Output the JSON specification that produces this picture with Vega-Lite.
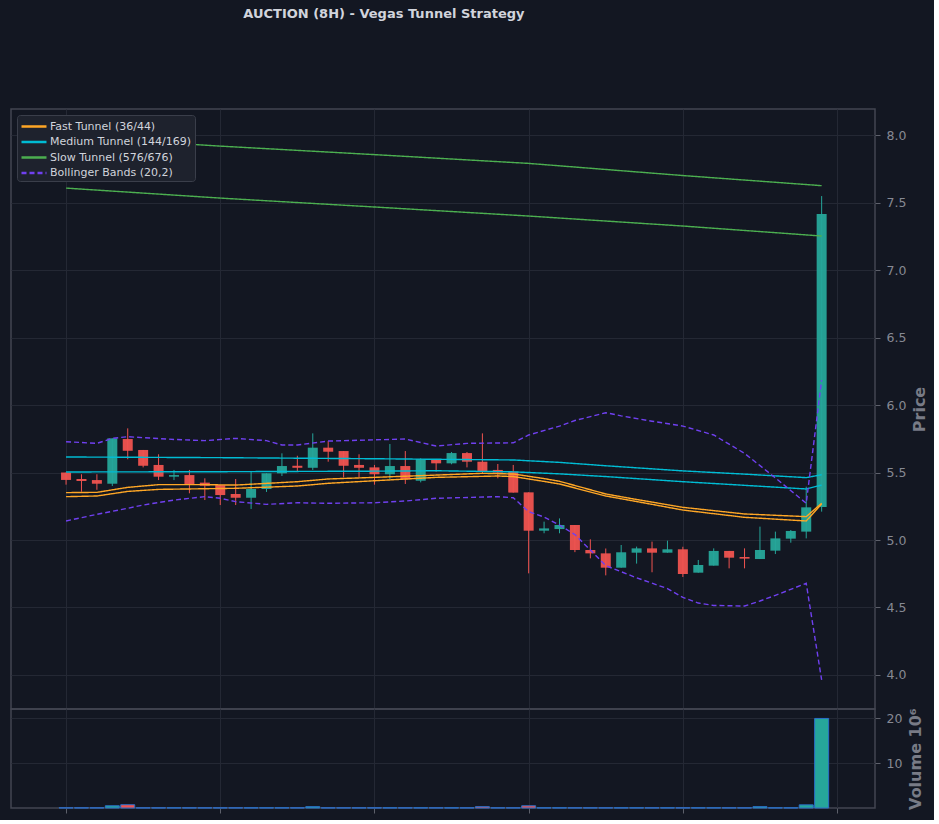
{
  "$schema": "https://vega.github.io/schema/vega-lite/v6.json",
  "background": "#131722",
  "padding": {"left": 10, "top": 8, "right": 5, "bottom": 5},
  "title": {"text": "AUCTION (8H) - Vegas Tunnel Strategy", "anchor": "start", "dx": 233, "offset": 87, "color": "#d1d4dc", "fontSize": 13, "fontWeight": "bold", "font": "DejaVu Sans"},
  "datasets": {
    "candles": [
      {"i": 0, "o": 5.50, "h": 5.50, "l": 5.41, "c": 5.445, "v": 0.05},
      {"i": 1, "o": 5.452, "h": 5.487, "l": 5.358, "c": 5.437, "v": 0.05},
      {"i": 2, "o": 5.444, "h": 5.487, "l": 5.372, "c": 5.417, "v": 0.05},
      {"i": 3, "o": 5.417, "h": 5.753, "l": 5.40, "c": 5.753, "v": 0.5},
      {"i": 4, "o": 5.748, "h": 5.827, "l": 5.598, "c": 5.661, "v": 0.73},
      {"i": 5, "o": 5.667, "h": 5.667, "l": 5.538, "c": 5.550, "v": 0.05},
      {"i": 6, "o": 5.556, "h": 5.635, "l": 5.444, "c": 5.469, "v": 0.05},
      {"i": 7, "o": 5.469, "h": 5.519, "l": 5.444, "c": 5.481, "v": 0.05},
      {"i": 8, "o": 5.481, "h": 5.519, "l": 5.346, "c": 5.415, "v": 0.05},
      {"i": 9, "o": 5.425, "h": 5.457, "l": 5.296, "c": 5.402, "v": 0.05},
      {"i": 10, "o": 5.407, "h": 5.407, "l": 5.259, "c": 5.333, "v": 0.05},
      {"i": 11, "o": 5.341, "h": 5.452, "l": 5.259, "c": 5.313, "v": 0.05},
      {"i": 12, "o": 5.313, "h": 5.504, "l": 5.230, "c": 5.378, "v": 0.05},
      {"i": 13, "o": 5.378, "h": 5.494, "l": 5.356, "c": 5.494, "v": 0.05},
      {"i": 14, "o": 5.494, "h": 5.642, "l": 5.474, "c": 5.548, "v": 0.05},
      {"i": 15, "o": 5.550, "h": 5.624, "l": 5.504, "c": 5.535, "v": 0.05},
      {"i": 16, "o": 5.535, "h": 5.790, "l": 5.519, "c": 5.684, "v": 0.3},
      {"i": 17, "o": 5.684, "h": 5.733, "l": 5.580, "c": 5.654, "v": 0.05},
      {"i": 18, "o": 5.659, "h": 5.659, "l": 5.464, "c": 5.550, "v": 0.05},
      {"i": 19, "o": 5.556, "h": 5.635, "l": 5.464, "c": 5.535, "v": 0.05},
      {"i": 20, "o": 5.538, "h": 5.556, "l": 5.410, "c": 5.487, "v": 0.05},
      {"i": 21, "o": 5.487, "h": 5.711, "l": 5.449, "c": 5.548, "v": 0.05},
      {"i": 22, "o": 5.548, "h": 5.659, "l": 5.415, "c": 5.449, "v": 0.05},
      {"i": 23, "o": 5.439, "h": 5.605, "l": 5.427, "c": 5.600, "v": 0.05},
      {"i": 24, "o": 5.600, "h": 5.600, "l": 5.506, "c": 5.568, "v": 0.05},
      {"i": 25, "o": 5.568, "h": 5.652, "l": 5.561, "c": 5.644, "v": 0.05},
      {"i": 26, "o": 5.644, "h": 5.652, "l": 5.538, "c": 5.580, "v": 0.05},
      {"i": 27, "o": 5.580, "h": 5.790, "l": 5.490, "c": 5.506, "v": 0.3},
      {"i": 28, "o": 5.519, "h": 5.563, "l": 5.457, "c": 5.499, "v": 0.05},
      {"i": 29, "o": 5.506, "h": 5.556, "l": 5.351, "c": 5.351, "v": 0.05},
      {"i": 30, "o": 5.353, "h": 5.353, "l": 4.753, "c": 5.069, "v": 0.5},
      {"i": 31, "o": 5.069, "h": 5.136, "l": 5.050, "c": 5.086, "v": 0.05},
      {"i": 32, "o": 5.081, "h": 5.160, "l": 5.050, "c": 5.111, "v": 0.05},
      {"i": 33, "o": 5.111, "h": 5.111, "l": 4.910, "c": 4.926, "v": 0.05},
      {"i": 34, "o": 4.926, "h": 5.005, "l": 4.864, "c": 4.901, "v": 0.05},
      {"i": 35, "o": 4.901, "h": 4.937, "l": 4.738, "c": 4.795, "v": 0.05},
      {"i": 36, "o": 4.795, "h": 4.963, "l": 4.795, "c": 4.909, "v": 0.05},
      {"i": 37, "o": 4.906, "h": 4.951, "l": 4.825, "c": 4.938, "v": 0.05},
      {"i": 38, "o": 4.938, "h": 4.988, "l": 4.761, "c": 4.906, "v": 0.05},
      {"i": 39, "o": 4.906, "h": 4.995, "l": 4.906, "c": 4.931, "v": 0.05},
      {"i": 40, "o": 4.931, "h": 4.950, "l": 4.726, "c": 4.748, "v": 0.05},
      {"i": 41, "o": 4.758, "h": 4.852, "l": 4.758, "c": 4.815, "v": 0.05},
      {"i": 42, "o": 4.810, "h": 4.938, "l": 4.810, "c": 4.919, "v": 0.05},
      {"i": 43, "o": 4.919, "h": 4.919, "l": 4.790, "c": 4.869, "v": 0.05},
      {"i": 44, "o": 4.874, "h": 4.938, "l": 4.790, "c": 4.862, "v": 0.05},
      {"i": 45, "o": 4.859, "h": 5.099, "l": 4.859, "c": 4.926, "v": 0.3},
      {"i": 46, "o": 4.921, "h": 5.062, "l": 4.896, "c": 5.012, "v": 0.05},
      {"i": 47, "o": 5.010, "h": 5.074, "l": 4.980, "c": 5.067, "v": 0.05},
      {"i": 48, "o": 5.062, "h": 5.395, "l": 5.012, "c": 5.242, "v": 0.7},
      {"i": 49, "o": 5.244, "h": 7.548, "l": 5.210, "c": 7.415, "v": 19.9}
    ],
    "lines": [
      {"s": "Fast Tunnel (36/44)", "b": "u", "i": 0, "v": 5.351},
      {"s": "Fast Tunnel (36/44)", "b": "u", "i": 2, "v": 5.353},
      {"s": "Fast Tunnel (36/44)", "b": "u", "i": 4, "v": 5.39},
      {"s": "Fast Tunnel (36/44)", "b": "u", "i": 6, "v": 5.41},
      {"s": "Fast Tunnel (36/44)", "b": "u", "i": 9, "v": 5.41},
      {"s": "Fast Tunnel (36/44)", "b": "u", "i": 11, "v": 5.407},
      {"s": "Fast Tunnel (36/44)", "b": "u", "i": 15, "v": 5.432},
      {"s": "Fast Tunnel (36/44)", "b": "u", "i": 17, "v": 5.452},
      {"s": "Fast Tunnel (36/44)", "b": "u", "i": 20, "v": 5.464},
      {"s": "Fast Tunnel (36/44)", "b": "u", "i": 24, "v": 5.481},
      {"s": "Fast Tunnel (36/44)", "b": "u", "i": 27, "v": 5.494},
      {"s": "Fast Tunnel (36/44)", "b": "u", "i": 29, "v": 5.489},
      {"s": "Fast Tunnel (36/44)", "b": "u", "i": 31, "v": 5.455},
      {"s": "Fast Tunnel (36/44)", "b": "u", "i": 32, "v": 5.435},
      {"s": "Fast Tunnel (36/44)", "b": "u", "i": 35, "v": 5.341},
      {"s": "Fast Tunnel (36/44)", "b": "u", "i": 37, "v": 5.30},
      {"s": "Fast Tunnel (36/44)", "b": "u", "i": 40, "v": 5.242},
      {"s": "Fast Tunnel (36/44)", "b": "u", "i": 44, "v": 5.193},
      {"s": "Fast Tunnel (36/44)", "b": "u", "i": 48, "v": 5.173},
      {"s": "Fast Tunnel (36/44)", "b": "u", "i": 49, "v": 5.272},
      {"s": "Fast Tunnel (36/44)", "b": "l", "i": 0, "v": 5.321},
      {"s": "Fast Tunnel (36/44)", "b": "l", "i": 2, "v": 5.326},
      {"s": "Fast Tunnel (36/44)", "b": "l", "i": 4, "v": 5.36},
      {"s": "Fast Tunnel (36/44)", "b": "l", "i": 6, "v": 5.375},
      {"s": "Fast Tunnel (36/44)", "b": "l", "i": 11, "v": 5.383},
      {"s": "Fast Tunnel (36/44)", "b": "l", "i": 15, "v": 5.40},
      {"s": "Fast Tunnel (36/44)", "b": "l", "i": 17, "v": 5.42},
      {"s": "Fast Tunnel (36/44)", "b": "l", "i": 20, "v": 5.439},
      {"s": "Fast Tunnel (36/44)", "b": "l", "i": 24, "v": 5.464},
      {"s": "Fast Tunnel (36/44)", "b": "l", "i": 28, "v": 5.474},
      {"s": "Fast Tunnel (36/44)", "b": "l", "i": 29, "v": 5.47},
      {"s": "Fast Tunnel (36/44)", "b": "l", "i": 31, "v": 5.434},
      {"s": "Fast Tunnel (36/44)", "b": "l", "i": 32, "v": 5.415},
      {"s": "Fast Tunnel (36/44)", "b": "l", "i": 35, "v": 5.326},
      {"s": "Fast Tunnel (36/44)", "b": "l", "i": 37, "v": 5.285},
      {"s": "Fast Tunnel (36/44)", "b": "l", "i": 40, "v": 5.222},
      {"s": "Fast Tunnel (36/44)", "b": "l", "i": 44, "v": 5.168},
      {"s": "Fast Tunnel (36/44)", "b": "l", "i": 48, "v": 5.141},
      {"s": "Fast Tunnel (36/44)", "b": "l", "i": 49, "v": 5.267},
      {"s": "Medium Tunnel (144/169)", "b": "u", "i": 0, "v": 5.615},
      {"s": "Medium Tunnel (144/169)", "b": "u", "i": 10, "v": 5.61},
      {"s": "Medium Tunnel (144/169)", "b": "u", "i": 20, "v": 5.602},
      {"s": "Medium Tunnel (144/169)", "b": "u", "i": 29, "v": 5.593},
      {"s": "Medium Tunnel (144/169)", "b": "u", "i": 32, "v": 5.575},
      {"s": "Medium Tunnel (144/169)", "b": "u", "i": 35, "v": 5.55},
      {"s": "Medium Tunnel (144/169)", "b": "u", "i": 40, "v": 5.512},
      {"s": "Medium Tunnel (144/169)", "b": "u", "i": 44, "v": 5.488},
      {"s": "Medium Tunnel (144/169)", "b": "u", "i": 48, "v": 5.462},
      {"s": "Medium Tunnel (144/169)", "b": "u", "i": 49, "v": 5.484},
      {"s": "Medium Tunnel (144/169)", "b": "l", "i": 0, "v": 5.504},
      {"s": "Medium Tunnel (144/169)", "b": "l", "i": 10, "v": 5.506},
      {"s": "Medium Tunnel (144/169)", "b": "l", "i": 20, "v": 5.51},
      {"s": "Medium Tunnel (144/169)", "b": "l", "i": 24, "v": 5.513},
      {"s": "Medium Tunnel (144/169)", "b": "l", "i": 29, "v": 5.505},
      {"s": "Medium Tunnel (144/169)", "b": "l", "i": 32, "v": 5.49},
      {"s": "Medium Tunnel (144/169)", "b": "l", "i": 35, "v": 5.47},
      {"s": "Medium Tunnel (144/169)", "b": "l", "i": 40, "v": 5.432},
      {"s": "Medium Tunnel (144/169)", "b": "l", "i": 44, "v": 5.405},
      {"s": "Medium Tunnel (144/169)", "b": "l", "i": 48, "v": 5.378},
      {"s": "Medium Tunnel (144/169)", "b": "l", "i": 49, "v": 5.407},
      {"s": "Slow Tunnel (576/676)", "b": "u", "i": 0, "v": 7.99},
      {"s": "Slow Tunnel (576/676)", "b": "u", "i": 10, "v": 7.918},
      {"s": "Slow Tunnel (576/676)", "b": "u", "i": 20, "v": 7.855},
      {"s": "Slow Tunnel (576/676)", "b": "u", "i": 30, "v": 7.79},
      {"s": "Slow Tunnel (576/676)", "b": "u", "i": 40, "v": 7.70},
      {"s": "Slow Tunnel (576/676)", "b": "u", "i": 49, "v": 7.625},
      {"s": "Slow Tunnel (576/676)", "b": "l", "i": 0, "v": 7.607},
      {"s": "Slow Tunnel (576/676)", "b": "l", "i": 10, "v": 7.533},
      {"s": "Slow Tunnel (576/676)", "b": "l", "i": 20, "v": 7.467},
      {"s": "Slow Tunnel (576/676)", "b": "l", "i": 30, "v": 7.40},
      {"s": "Slow Tunnel (576/676)", "b": "l", "i": 40, "v": 7.326},
      {"s": "Slow Tunnel (576/676)", "b": "l", "i": 49, "v": 7.252},
      {"s": "Bollinger Bands (20,2)", "b": "u", "i": 0, "v": 5.728},
      {"s": "Bollinger Bands (20,2)", "b": "u", "i": 2, "v": 5.716},
      {"s": "Bollinger Bands (20,2)", "b": "u", "i": 3, "v": 5.753},
      {"s": "Bollinger Bands (20,2)", "b": "u", "i": 4, "v": 5.765},
      {"s": "Bollinger Bands (20,2)", "b": "u", "i": 7, "v": 5.745},
      {"s": "Bollinger Bands (20,2)", "b": "u", "i": 9, "v": 5.736},
      {"s": "Bollinger Bands (20,2)", "b": "u", "i": 11, "v": 5.753},
      {"s": "Bollinger Bands (20,2)", "b": "u", "i": 13, "v": 5.736},
      {"s": "Bollinger Bands (20,2)", "b": "u", "i": 14, "v": 5.704},
      {"s": "Bollinger Bands (20,2)", "b": "u", "i": 15, "v": 5.704},
      {"s": "Bollinger Bands (20,2)", "b": "u", "i": 17, "v": 5.733},
      {"s": "Bollinger Bands (20,2)", "b": "u", "i": 22, "v": 5.748},
      {"s": "Bollinger Bands (20,2)", "b": "u", "i": 24, "v": 5.696},
      {"s": "Bollinger Bands (20,2)", "b": "u", "i": 26, "v": 5.716},
      {"s": "Bollinger Bands (20,2)", "b": "u", "i": 29, "v": 5.72},
      {"s": "Bollinger Bands (20,2)", "b": "u", "i": 30, "v": 5.778},
      {"s": "Bollinger Bands (20,2)", "b": "u", "i": 32, "v": 5.844},
      {"s": "Bollinger Bands (20,2)", "b": "u", "i": 33, "v": 5.885},
      {"s": "Bollinger Bands (20,2)", "b": "u", "i": 35, "v": 5.943},
      {"s": "Bollinger Bands (20,2)", "b": "u", "i": 36, "v": 5.92},
      {"s": "Bollinger Bands (20,2)", "b": "u", "i": 38, "v": 5.88},
      {"s": "Bollinger Bands (20,2)", "b": "u", "i": 40, "v": 5.844},
      {"s": "Bollinger Bands (20,2)", "b": "u", "i": 42, "v": 5.778},
      {"s": "Bollinger Bands (20,2)", "b": "u", "i": 44, "v": 5.642},
      {"s": "Bollinger Bands (20,2)", "b": "u", "i": 46, "v": 5.46},
      {"s": "Bollinger Bands (20,2)", "b": "u", "i": 48, "v": 5.272},
      {"s": "Bollinger Bands (20,2)", "b": "u", "i": 49, "v": 6.185},
      {"s": "Bollinger Bands (20,2)", "b": "l", "i": 0, "v": 5.141},
      {"s": "Bollinger Bands (20,2)", "b": "l", "i": 2, "v": 5.19},
      {"s": "Bollinger Bands (20,2)", "b": "l", "i": 4, "v": 5.235},
      {"s": "Bollinger Bands (20,2)", "b": "l", "i": 5, "v": 5.259},
      {"s": "Bollinger Bands (20,2)", "b": "l", "i": 7, "v": 5.296},
      {"s": "Bollinger Bands (20,2)", "b": "l", "i": 9, "v": 5.321},
      {"s": "Bollinger Bands (20,2)", "b": "l", "i": 10, "v": 5.309},
      {"s": "Bollinger Bands (20,2)", "b": "l", "i": 11, "v": 5.284},
      {"s": "Bollinger Bands (20,2)", "b": "l", "i": 13, "v": 5.264},
      {"s": "Bollinger Bands (20,2)", "b": "l", "i": 15, "v": 5.276},
      {"s": "Bollinger Bands (20,2)", "b": "l", "i": 17, "v": 5.272},
      {"s": "Bollinger Bands (20,2)", "b": "l", "i": 20, "v": 5.276},
      {"s": "Bollinger Bands (20,2)", "b": "l", "i": 22, "v": 5.289},
      {"s": "Bollinger Bands (20,2)", "b": "l", "i": 24, "v": 5.309},
      {"s": "Bollinger Bands (20,2)", "b": "l", "i": 28, "v": 5.321},
      {"s": "Bollinger Bands (20,2)", "b": "l", "i": 29, "v": 5.313},
      {"s": "Bollinger Bands (20,2)", "b": "l", "i": 30, "v": 5.21},
      {"s": "Bollinger Bands (20,2)", "b": "l", "i": 31, "v": 5.17},
      {"s": "Bollinger Bands (20,2)", "b": "l", "i": 32, "v": 5.111},
      {"s": "Bollinger Bands (20,2)", "b": "l", "i": 33, "v": 5.04},
      {"s": "Bollinger Bands (20,2)", "b": "l", "i": 34, "v": 4.926},
      {"s": "Bollinger Bands (20,2)", "b": "l", "i": 35, "v": 4.81},
      {"s": "Bollinger Bands (20,2)", "b": "l", "i": 37, "v": 4.72},
      {"s": "Bollinger Bands (20,2)", "b": "l", "i": 38, "v": 4.68},
      {"s": "Bollinger Bands (20,2)", "b": "l", "i": 39, "v": 4.64},
      {"s": "Bollinger Bands (20,2)", "b": "l", "i": 40, "v": 4.575},
      {"s": "Bollinger Bands (20,2)", "b": "l", "i": 41, "v": 4.533},
      {"s": "Bollinger Bands (20,2)", "b": "l", "i": 42, "v": 4.515},
      {"s": "Bollinger Bands (20,2)", "b": "l", "i": 44, "v": 4.511},
      {"s": "Bollinger Bands (20,2)", "b": "l", "i": 45, "v": 4.548},
      {"s": "Bollinger Bands (20,2)", "b": "l", "i": 46, "v": 4.59},
      {"s": "Bollinger Bands (20,2)", "b": "l", "i": 48, "v": 4.679},
      {"s": "Bollinger Bands (20,2)", "b": "l", "i": 49, "v": 3.963}
    ]
  },
  "spacing": 0,
  "bounds": "flush",
  "vconcat": [
    {
      "width": 864,
      "height": 600,
      "layer": [
        {
          "data": {"name": "candles"},
          "mark": {"type": "rule", "strokeWidth": 1},
          "encoding": {
            "x": {"field": "i", "type": "quantitative", "scale": {"domain": [-3.57, 52.46], "nice": false, "zero": false, "padding": 0},
                  "axis": {"values": [0, 10, 20, 30, 40, 50], "labels": false, "ticks": false, "tickSize": 0, "labelPadding": 0, "domain": false, "title": null, "grid": true}},
            "y": {"field": "l", "type": "quantitative", "scale": {"domain": [3.748, 8.193], "nice": false, "zero": false, "padding": 0},
                  "axis": {"orient": "right", "values": [4, 4.5, 5, 5.5, 6, 6.5, 7, 7.5, 8], "format": ".1f", "title": "Price", "titleAngle": 270, "titleBaseline": "top", "titlePadding": 6, "grid": true}},
            "y2": {"field": "h"},
            "color": {"condition": {"test": "datum.c >= datum.o", "value": "#26a69a"}, "value": "#ef5350"}
          }
        },
        {
          "data": {"name": "candles"},
          "mark": {"type": "bar", "size": 10, "opacity": 0.95},
          "encoding": {
            "x": {"field": "i", "type": "quantitative"},
            "y": {"field": "o", "type": "quantitative"},
            "y2": {"field": "c"},
            "color": {"condition": {"test": "datum.c >= datum.o", "value": "#26a69a"}, "value": "#ef5350"}
          }
        },
        {
          "data": {"name": "lines"},
          "mark": {"type": "line", "strokeWidth": 1.4},
          "encoding": {
            "x": {"field": "i", "type": "quantitative"},
            "y": {"field": "v", "type": "quantitative"},
            "detail": {"field": "b"},
            "color": {"field": "s", "type": "nominal",
                      "scale": {"domain": ["Fast Tunnel (36/44)", "Medium Tunnel (144/169)", "Slow Tunnel (576/676)", "Bollinger Bands (20,2)"],
                                "range": ["#ffa726", "#00bcd4", "#4caf50", "#7040f0"]},
                      "legend": {"title": null}},
            "strokeDash": {"field": "s", "type": "nominal",
                           "scale": {"domain": ["Fast Tunnel (36/44)", "Medium Tunnel (144/169)", "Slow Tunnel (576/676)", "Bollinger Bands (20,2)"],
                                     "range": [[1, 0], [1, 0], [1, 0], [5, 3]]},
                           "legend": {"title": null}}
          }
        }
      ]
    },
    {
      "width": 864,
      "height": 99,
      "data": {"name": "candles"},
      "mark": {"type": "bar", "size": 14, "stroke": "#2a6fc9", "strokeWidth": 1},
      "encoding": {
        "x": {"field": "i", "type": "quantitative", "scale": {"domain": [-3.57, 52.46], "nice": false, "zero": false, "padding": 0},
              "axis": {"values": [0, 10, 20, 30, 40, 50], "labels": false, "ticks": true, "tickSize": 5, "domain": false, "title": null, "grid": true}},
        "y": {"field": "v", "type": "quantitative", "scale": {"domain": [0, 22], "nice": false, "padding": 0},
              "axis": {"orient": "right", "values": [10, 20], "format": "d", "title": "Volume  10⁶", "titleAngle": 270, "titleBaseline": "top", "titlePadding": 6, "grid": true}},
        "color": {"condition": {"test": "datum.c >= datum.o", "value": "#26a69a"}, "value": "#ef5350"}
      }
    }
  ],
  "config": {
    "font": "DejaVu Sans",
    "view": {"stroke": "#434651", "strokeWidth": 1.5},
    "axis": {
      "labelColor": "#868993",
      "labelFontSize": 12.5,
      "labelFont": "DejaVu Sans",
      "labelPadding": 6,
      "tickColor": "#5d606b",
      "tickSize": 5,
      "domain": false,
      "gridColor": "#242834",
      "gridWidth": 1,
      "titleColor": "#787b86",
      "titleFontSize": 16,
      "titleFontWeight": "bold",
      "titleFont": "DejaVu Sans"
    },
    "legend": {
      "orient": "top-left",
      "offset": 6,
      "fillColor": "#1e222d",
      "strokeColor": "#3a3e4a",
      "cornerRadius": 3,
      "padding": 3,
      "labelColor": "#d1d4dc",
      "labelFontSize": 11,
      "labelFont": "DejaVu Sans",
      "labelOffset": 13,
      "symbolType": "M-1,0L2.57,0",
      "symbolSize": 196,
      "symbolStrokeWidth": 2.5,
      "rowPadding": 1.5
    }
  }
}
